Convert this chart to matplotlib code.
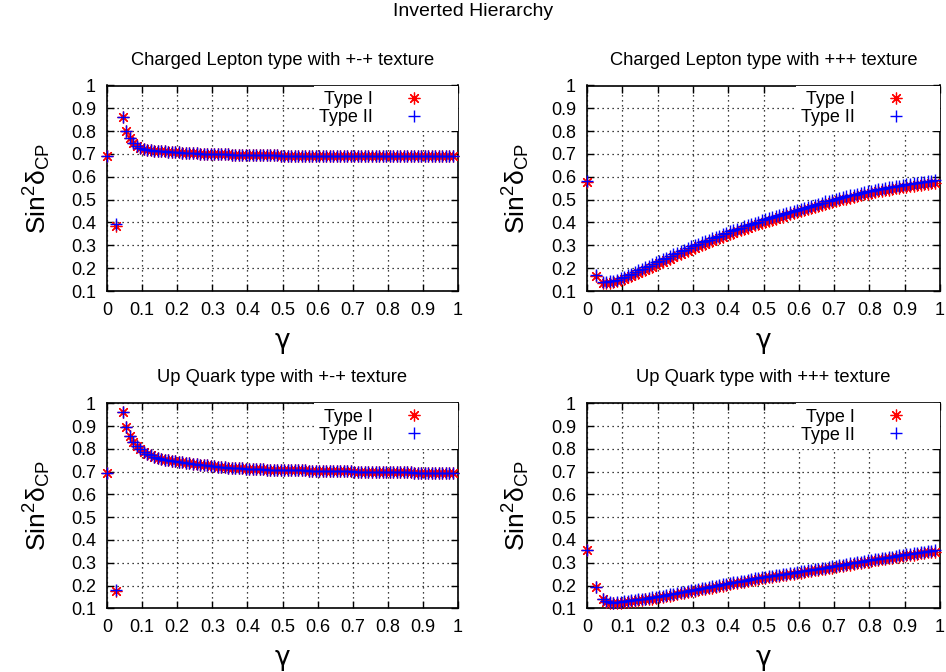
import matplotlib
matplotlib.use("Agg")
import matplotlib.pyplot as plt

plt.rcParams['font.family'] = ['Liberation Sans', 'DejaVu Sans']
plt.rcParams['mathtext.fontset'] = 'custom'
plt.rcParams['mathtext.rm'] = 'Liberation Sans'
plt.rcParams['mathtext.it'] = 'Liberation Sans:italic'
plt.rcParams['mathtext.bf'] = 'Liberation Sans:bold'

# ---------------- data ----------------
gamma = [0.0, 0.025,
         0.045, 0.055, 0.065, 0.075, 0.085, 0.095, 0.105, 0.115, 0.125, 0.135,
         0.145, 0.155, 0.165, 0.175, 0.185, 0.195, 0.205, 0.215, 0.225, 0.235,
         0.245, 0.255, 0.265, 0.275, 0.285, 0.295, 0.305, 0.315, 0.325, 0.335,
         0.345, 0.355, 0.365, 0.375, 0.385, 0.395, 0.405, 0.415, 0.425, 0.435,
         0.445, 0.455, 0.465, 0.475, 0.485, 0.495, 0.505, 0.515, 0.525, 0.535,
         0.545, 0.555, 0.565, 0.575, 0.585, 0.595, 0.605, 0.615, 0.625, 0.635,
         0.645, 0.655, 0.665, 0.675, 0.685, 0.695, 0.705, 0.715, 0.725, 0.735,
         0.745, 0.755, 0.765, 0.775, 0.785, 0.795, 0.805, 0.815, 0.825, 0.835,
         0.845, 0.855, 0.865, 0.875, 0.885, 0.895, 0.905, 0.915, 0.925, 0.935,
         0.945, 0.955, 0.965, 0.975, 0.985]

# Charged Lepton, +-+ texture
cl_pm_type1 = [0.690, 0.383,
               0.864, 0.802, 0.768, 0.750, 0.737, 0.728, 0.721, 0.718, 0.716, 0.714,
               0.713, 0.712, 0.711, 0.710, 0.709, 0.708, 0.707, 0.706, 0.705, 0.704,
               0.704, 0.703, 0.702, 0.702, 0.701, 0.700, 0.699, 0.699, 0.698, 0.698,
               0.698, 0.697, 0.697, 0.697, 0.696, 0.696, 0.696, 0.695, 0.695, 0.695,
               0.695, 0.694, 0.694, 0.694, 0.694, 0.693, 0.693, 0.693, 0.693, 0.693,
               0.692, 0.692, 0.692, 0.692, 0.692, 0.692, 0.692, 0.692, 0.692, 0.692,
               0.692, 0.692, 0.691, 0.691, 0.691, 0.691, 0.691, 0.691, 0.691, 0.691,
               0.691, 0.691, 0.691, 0.691, 0.691, 0.691, 0.691, 0.691, 0.691, 0.691,
               0.691, 0.691, 0.690, 0.690, 0.690, 0.690, 0.690, 0.690, 0.690, 0.690,
               0.690, 0.690, 0.690, 0.690, 0.690]
cl_pm_type2 = [0.690, 0.393,
               0.864, 0.802, 0.768, 0.750, 0.737, 0.728, 0.721, 0.718, 0.716, 0.714,
               0.713, 0.712, 0.711, 0.710, 0.709, 0.708, 0.707, 0.706, 0.705, 0.704,
               0.704, 0.703, 0.702, 0.702, 0.701, 0.700, 0.699, 0.699, 0.698, 0.698,
               0.698, 0.697, 0.697, 0.697, 0.696, 0.696, 0.696, 0.695, 0.695, 0.695,
               0.695, 0.694, 0.694, 0.694, 0.694, 0.693, 0.693, 0.693, 0.693, 0.693,
               0.692, 0.692, 0.692, 0.692, 0.692, 0.692, 0.692, 0.692, 0.692, 0.692,
               0.692, 0.692, 0.691, 0.691, 0.691, 0.691, 0.691, 0.691, 0.691, 0.691,
               0.691, 0.691, 0.691, 0.691, 0.691, 0.691, 0.691, 0.691, 0.691, 0.691,
               0.691, 0.691, 0.690, 0.690, 0.690, 0.690, 0.690, 0.690, 0.690, 0.690,
               0.690, 0.690, 0.690, 0.690, 0.690]

# Charged Lepton, +++ texture
cl_pp_type1 = [0.578, 0.165,
               0.137, 0.136, 0.137, 0.139, 0.143, 0.148, 0.154, 0.160, 0.166, 0.173,
               0.180, 0.187, 0.194, 0.200, 0.207, 0.214, 0.221, 0.228, 0.235, 0.242,
               0.249, 0.256, 0.263, 0.270, 0.277, 0.284, 0.290, 0.296, 0.302, 0.308,
               0.314, 0.320, 0.326, 0.332, 0.338, 0.344, 0.350, 0.355, 0.361, 0.366,
               0.372, 0.377, 0.383, 0.388, 0.393, 0.398, 0.403, 0.408, 0.412, 0.417,
               0.422, 0.426, 0.431, 0.436, 0.440, 0.445, 0.449, 0.454, 0.458, 0.463,
               0.467, 0.472, 0.476, 0.481, 0.485, 0.489, 0.493, 0.497, 0.501, 0.505,
               0.509, 0.512, 0.516, 0.520, 0.523, 0.527, 0.530, 0.533, 0.536, 0.538,
               0.541, 0.544, 0.547, 0.549, 0.552, 0.555, 0.557, 0.559, 0.562, 0.564,
               0.566, 0.568, 0.570, 0.572, 0.574]
cl_pp_type2 = [0.580, 0.168,
               0.141, 0.140, 0.142, 0.145, 0.150, 0.156, 0.163, 0.169, 0.176, 0.183,
               0.190, 0.197, 0.204, 0.211, 0.218, 0.225, 0.232, 0.239, 0.246, 0.253,
               0.260, 0.267, 0.274, 0.281, 0.288, 0.295, 0.301, 0.307, 0.313, 0.319,
               0.325, 0.331, 0.337, 0.343, 0.349, 0.355, 0.361, 0.366, 0.372, 0.377,
               0.383, 0.388, 0.394, 0.399, 0.404, 0.409, 0.414, 0.419, 0.423, 0.428,
               0.433, 0.437, 0.442, 0.447, 0.451, 0.456, 0.460, 0.465, 0.469, 0.474,
               0.478, 0.483, 0.487, 0.492, 0.496, 0.500, 0.504, 0.507, 0.511, 0.515,
               0.519, 0.522, 0.526, 0.530, 0.533, 0.537, 0.540, 0.543, 0.546, 0.548,
               0.551, 0.554, 0.557, 0.559, 0.562, 0.565, 0.567, 0.569, 0.572, 0.574,
               0.576, 0.578, 0.580, 0.582, 0.584]

# Up Quark, +-+ texture
uq_pm_type1 = [0.693, 0.178,
               0.963, 0.897, 0.858, 0.831, 0.812, 0.798, 0.787, 0.779, 0.772, 0.766,
               0.761, 0.757, 0.753, 0.750, 0.747, 0.745, 0.743, 0.741, 0.739, 0.737,
               0.735, 0.733, 0.731, 0.729, 0.727, 0.725, 0.723, 0.722, 0.721, 0.720,
               0.718, 0.717, 0.716, 0.715, 0.714, 0.713, 0.712, 0.711, 0.711, 0.710,
               0.710, 0.709, 0.709, 0.708, 0.708, 0.707, 0.707, 0.706, 0.706, 0.706,
               0.705, 0.705, 0.705, 0.704, 0.704, 0.704, 0.703, 0.703, 0.703, 0.702,
               0.702, 0.702, 0.701, 0.701, 0.701, 0.701, 0.700, 0.700, 0.700, 0.700,
               0.699, 0.699, 0.699, 0.699, 0.698, 0.698, 0.698, 0.698, 0.697, 0.697,
               0.697, 0.697, 0.697, 0.696, 0.696, 0.696, 0.696, 0.696, 0.695, 0.695,
               0.695, 0.695, 0.695, 0.694, 0.694]
uq_pm_type2 = [0.693, 0.182,
               0.963, 0.897, 0.858, 0.831, 0.812, 0.798, 0.787, 0.779, 0.772, 0.766,
               0.761, 0.757, 0.753, 0.750, 0.747, 0.745, 0.743, 0.741, 0.739, 0.737,
               0.735, 0.733, 0.731, 0.729, 0.727, 0.725, 0.723, 0.722, 0.721, 0.720,
               0.718, 0.717, 0.716, 0.715, 0.714, 0.713, 0.712, 0.711, 0.711, 0.710,
               0.710, 0.709, 0.709, 0.708, 0.708, 0.707, 0.707, 0.706, 0.706, 0.706,
               0.705, 0.705, 0.705, 0.704, 0.704, 0.704, 0.703, 0.703, 0.703, 0.702,
               0.702, 0.702, 0.701, 0.701, 0.701, 0.701, 0.700, 0.700, 0.700, 0.700,
               0.699, 0.699, 0.699, 0.699, 0.698, 0.698, 0.698, 0.698, 0.697, 0.697,
               0.697, 0.697, 0.697, 0.696, 0.696, 0.696, 0.696, 0.696, 0.695, 0.695,
               0.695, 0.695, 0.695, 0.694, 0.694]

# Up Quark, +++ texture
uq_pp_type1 = [0.354, 0.195,
               0.141, 0.128, 0.124, 0.123, 0.123, 0.125, 0.127, 0.129, 0.131, 0.133,
               0.135, 0.137, 0.139, 0.141, 0.143, 0.145, 0.148, 0.151, 0.154, 0.156,
               0.159, 0.162, 0.165, 0.168, 0.171, 0.174, 0.177, 0.180, 0.183, 0.185,
               0.188, 0.191, 0.194, 0.197, 0.200, 0.203, 0.206, 0.209, 0.211, 0.214,
               0.217, 0.220, 0.223, 0.226, 0.228, 0.231, 0.233, 0.236, 0.238, 0.240,
               0.243, 0.245, 0.247, 0.250, 0.252, 0.254, 0.257, 0.259, 0.262, 0.264,
               0.267, 0.269, 0.272, 0.274, 0.277, 0.279, 0.282, 0.284, 0.287, 0.289,
               0.292, 0.295, 0.297, 0.300, 0.302, 0.305, 0.307, 0.310, 0.312, 0.315,
               0.317, 0.320, 0.322, 0.325, 0.327, 0.330, 0.332, 0.334, 0.336, 0.338,
               0.341, 0.343, 0.345, 0.347, 0.349]
uq_pp_type2 = [0.356, 0.195,
               0.143, 0.130, 0.126, 0.125, 0.126, 0.128, 0.131, 0.133, 0.135, 0.137,
               0.139, 0.141, 0.143, 0.145, 0.148, 0.150, 0.153, 0.156, 0.159, 0.161,
               0.164, 0.167, 0.170, 0.173, 0.176, 0.179, 0.182, 0.185, 0.188, 0.190,
               0.193, 0.196, 0.199, 0.202, 0.205, 0.208, 0.211, 0.214, 0.216, 0.219,
               0.222, 0.225, 0.228, 0.231, 0.233, 0.236, 0.238, 0.241, 0.243, 0.245,
               0.248, 0.250, 0.252, 0.255, 0.257, 0.259, 0.262, 0.264, 0.267, 0.269,
               0.272, 0.274, 0.277, 0.279, 0.282, 0.284, 0.287, 0.289, 0.292, 0.294,
               0.297, 0.300, 0.302, 0.305, 0.307, 0.310, 0.312, 0.315, 0.317, 0.320,
               0.322, 0.325, 0.327, 0.330, 0.332, 0.335, 0.337, 0.339, 0.341, 0.343,
               0.346, 0.348, 0.350, 0.352, 0.354]

panel_titles = ["Charged Lepton type with +-+ texture",
                "Charged Lepton type with +++ texture",
                "Up Quark type with +-+ texture",
                "Up Quark type with +++ texture"]
series_labels = ["Type I", "Type II"]
x_ticks = [0, 0.1, 0.2, 0.3, 0.4, 0.5, 0.6, 0.7, 0.8, 0.9, 1]
x_ticklabels = ["0", "0.1", "0.2", "0.3", "0.4", "0.5", "0.6", "0.7", "0.8", "0.9", "1"]
y_ticks = [0.1, 0.2, 0.3, 0.4, 0.5, 0.6, 0.7, 0.8, 0.9, 1]
y_ticklabels = ["0.1", "0.2", "0.3", "0.4", "0.5", "0.6", "0.7", "0.8", "0.9", "1"]
suptitle = "Inverted Hierarchy"

panels = [(cl_pm_type1, cl_pm_type2), (cl_pp_type1, cl_pp_type2),
          (uq_pm_type1, uq_pm_type2), (uq_pp_type1, uq_pp_type2)]

# ---------------- figure ----------------
W, H = 946, 672
fig = plt.figure(figsize=(W / 100, H / 100), dpi=100)

# axes boxes in pixels: left, top, right, bottom
boxes = [(107, 85.5, 458, 291), (587, 85.5, 940, 291),
         (107, 403.3, 458, 608.3), (587, 403.3, 940, 608.3)]

star = (8, 2, 0)
for i, ((y1, y2), (l, t, r, b)) in enumerate(zip(panels, boxes)):
    ax = fig.add_axes([l / W, 1 - b / H, (r - l) / W, (b - t) / H])
    ax.set_xlim(0, 1)
    ax.set_ylim(0.1, 1)
    ax.grid(True, color='black', linestyle=(0, (1, 3)), linewidth=0.9, zorder=0)
    ax.set_axisbelow(True)
    ax.plot(gamma, y1, linestyle='none', marker=star, markersize=8.5,
            markeredgewidth=0.9, color='#ff0000', label=series_labels[0],
            clip_on=False, zorder=3)
    ax.plot(gamma, y2, linestyle='none', marker='+', markersize=8,
            markeredgewidth=1.0, color='#0000ff', label=series_labels[1],
            clip_on=False, zorder=4)
    ax.set_xticks(x_ticks)
    ax.set_xticklabels(x_ticklabels)
    ax.set_yticks(y_ticks)
    ax.set_yticklabels(y_ticklabels)
    ax.tick_params(direction='in', length=5, width=1, top=True, right=True,
                   labelsize=13, pad=8)
    for s in ax.spines.values():
        s.set_linewidth(1.2)
    ax.set_title(panel_titles[i], fontsize=13.2, pad=15)
    ax.set_xlabel('γ', fontsize=19, family=['DejaVu Sans'])
    ax.xaxis.set_label_coords(0.5, -0.18)
    ax.set_ylabel(r'Sin$^{2}\mathrm{\delta}_{\mathrm{CP}}$', fontsize=19)
    ax.yaxis.set_label_coords(-0.155, 0.5)
    leg = ax.legend(loc='upper right', bbox_to_anchor=(1, 1), borderaxespad=0,
                    markerfirst=False, fontsize=13, frameon=True, fancybox=False,
                    framealpha=1, edgecolor='none', facecolor='white',
                    borderpad=0.3, handlelength=4.3, handletextpad=0.1,
                    labelspacing=0.05)
    leg.set_zorder(5)

fig.text(0.5, 1 - 12 / H, suptitle, ha='center', va='center', fontsize=14)

fig.savefig('out.png', dpi=100)
